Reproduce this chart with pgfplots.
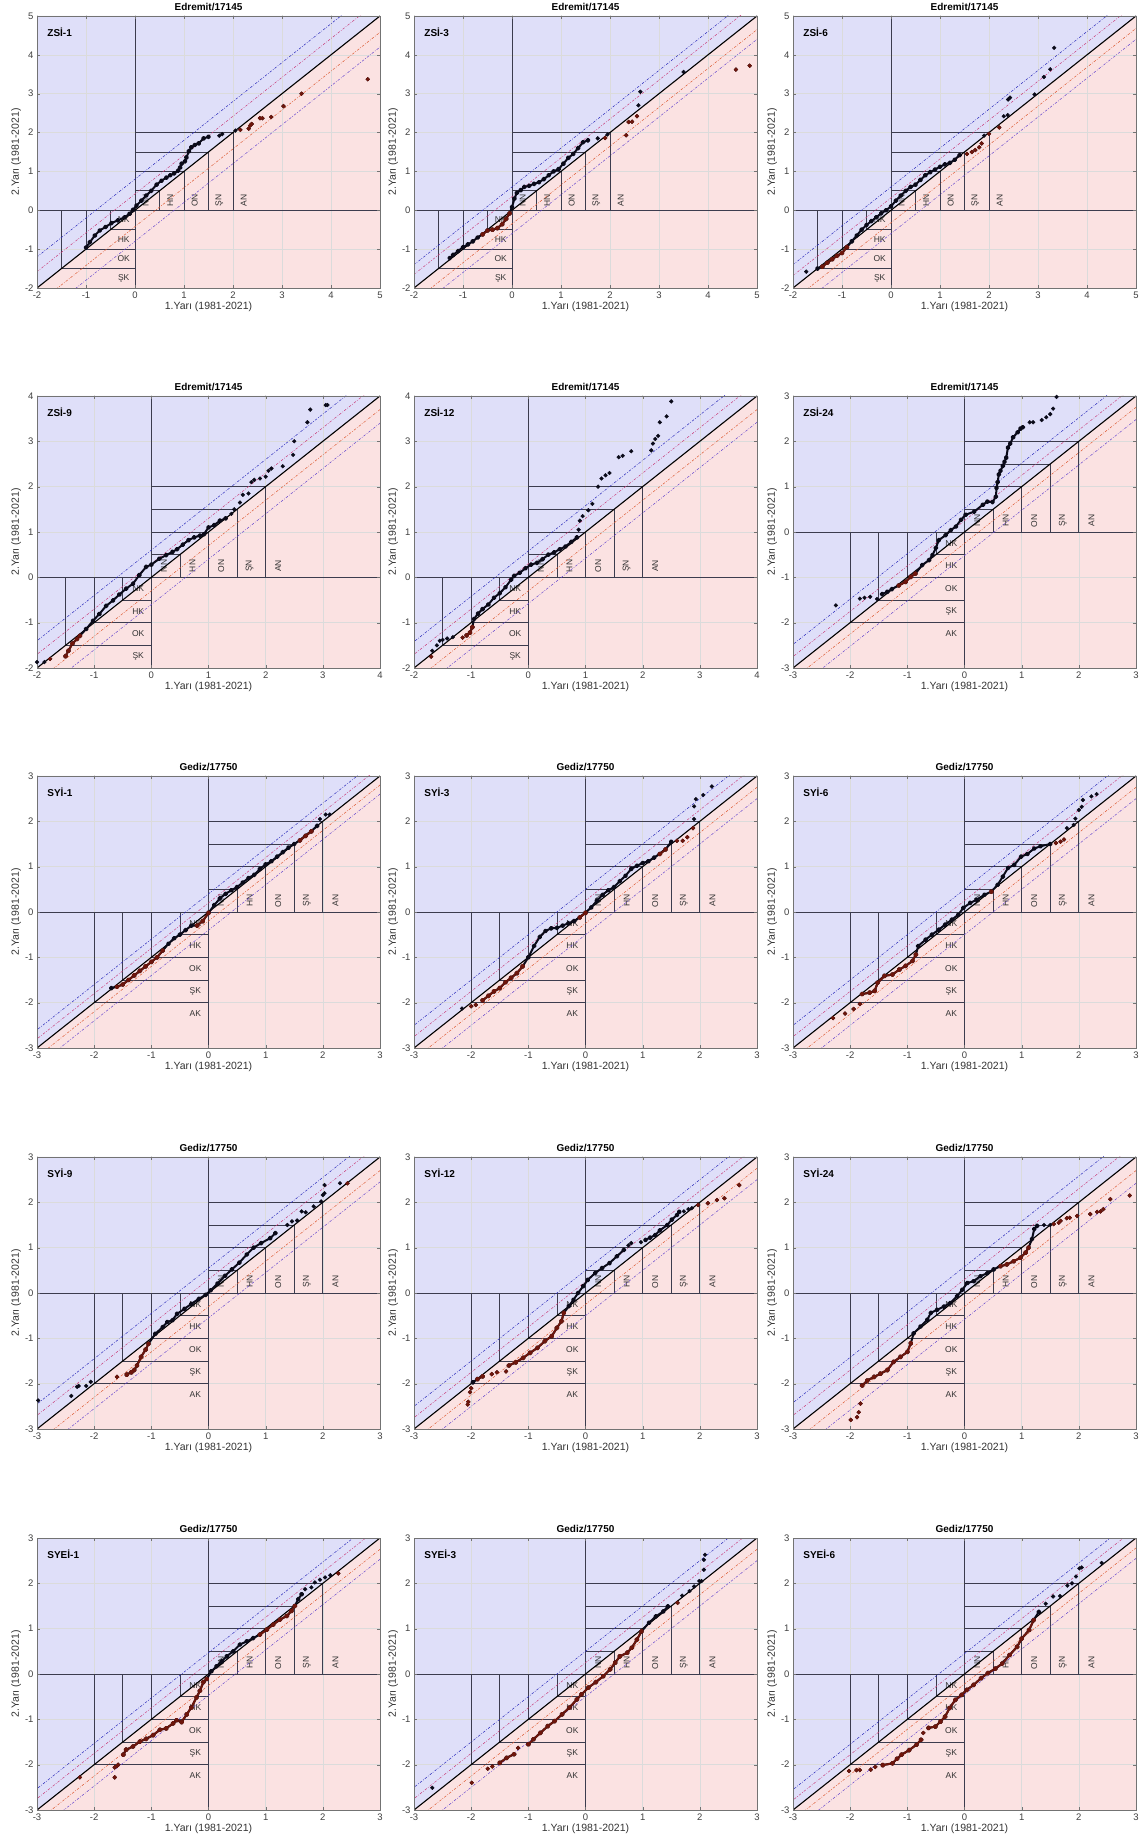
\documentclass[border=0pt]{standalone}
\usepackage{fontspec}
\setmainfont{Liberation Sans}
\usepackage{pgfplots}
\pgfplotsset{compat=1.18}
\definecolor{bgblue}{RGB}{223,223,249}
\definecolor{bgpink}{RGB}{251,226,226}
\definecolor{boxgray}{RGB}{60,60,78}
\definecolor{lnblue}{RGB}{40,40,185}
\definecolor{lnmag}{RGB}{200,60,120}
\definecolor{lnorange}{RGB}{220,90,50}
\definecolor{lnpurple}{RGB}{100,70,205}
\definecolor{ptred}{RGB}{110,22,12}
\definecolor{ptblack}{RGB}{10,10,25}
\newcommand{\lblfont}{\fontsize{8.5}{9}\selectfont}
\pgfplotsset{
 itabase/.style={
  width=343pt, height=272pt, scale only axis, anchor=south west,
  xtick distance=1, ytick distance=1,
  axis line style={draw=black!55, line width=0.5pt},
  tick style={draw=black!55},
  tick align=inside, major tick length=3pt,
  axis on top,
  /pgf/number format/assume math mode=true,
  tick label style={font=\fontsize{9.5}{10}\selectfont, text=black!75},
  xlabel={1.Yarı (1981-2021)}, ylabel={2.Yarı (1981-2021)},
  label style={font=\fontsize{10.5}{11}\selectfont, text=black!80},
  xlabel style={yshift=3pt}, ylabel style={yshift=-3pt},
  title style={font=\bfseries\fontsize{10}{11}\selectfont, yshift=-4pt},
  unbounded coords=jump,
 },
 ita/.style n args={5}{itabase, at={(#1pt,#2pt)}, xmin=#3, xmax=#4, ymin=#3, ymax=#4, title={#5}},
 dense/.style={line width=2pt, line join=round, mark=*, mark size=1.5pt, mark options={solid}},
 sparse/.style={only marks, mark=*, mark size=1.9pt},
 lowerpts/.style={filter point/.code={%
   \pgfmathfloatlessthan{\pgfkeysvalueof{/data point/y}}{\pgfkeysvalueof{/data point/x}}%
   \ifpgfmathfloatcomparison\else\pgfkeyssetvalue{/data point/y}{nan}\fi}},
}
\newcommand{\pts}[2]{%
 \addplot[#1, ptblack] coordinates {#2};
 \addplot[#1, ptred, lowerpts] coordinates {#2};
}
\newcommand{\itabg}[5]{%
 \fill[bgblue] (axis cs:#1,#1) -- (axis cs:#1,#2) -- (axis cs:#2,#2) -- cycle;
 \fill[bgpink] (axis cs:#1,#1) -- (axis cs:#2,#1) -- (axis cs:#2,#2) -- cycle;
 \pgfplotsinvokeforeach{-3,-2,-1,0,1,2,3,4,5}{%
  \draw[black!14, line width=0.5pt] (axis cs:##1,-10) -- (axis cs:##1,10);
  \draw[black!14, line width=0.5pt] (axis cs:-10,##1) -- (axis cs:10,##1);
 }
 \draw[boxgray, line width=0.75pt] (axis cs:#1,0) -- (axis cs:#2,0);
 \draw[boxgray, line width=0.75pt] (axis cs:0,#1) -- (axis cs:0,#2);
 \draw[boxgray, line width=0.75pt] (axis cs:0,0.5) -- (axis cs:0.5,0.5) -- (axis cs:0.5,0);
 \draw[boxgray, line width=0.75pt] (axis cs:0,1) -- (axis cs:1,1) -- (axis cs:1,0);
 \draw[boxgray, line width=0.75pt] (axis cs:0,1.5) -- (axis cs:1.5,1.5) -- (axis cs:1.5,0);
 \draw[boxgray, line width=0.75pt] (axis cs:0,2) -- (axis cs:2,2) -- (axis cs:2,0);
 \draw[boxgray, line width=0.75pt] (axis cs:0,-0.5) -- (axis cs:-0.5,-0.5) -- (axis cs:-0.5,0);
 \draw[boxgray, line width=0.75pt] (axis cs:0,-1) -- (axis cs:-1,-1) -- (axis cs:-1,0);
 \draw[boxgray, line width=0.75pt] (axis cs:0,-1.5) -- (axis cs:-1.5,-1.5) -- (axis cs:-1.5,0);
 \draw[boxgray, line width=0.75pt] (axis cs:0,-2) -- (axis cs:-2,-2) -- (axis cs:-2,0);
 \node[rotate=90, font=\lblfont, text=black!80] at (axis cs:0.22,0.25) {NN};
 \node[rotate=90, font=\lblfont, text=black!80] at (axis cs:0.72,0.25) {HN};
 \node[rotate=90, font=\lblfont, text=black!80] at (axis cs:1.22,0.25) {ON};
 \node[rotate=90, font=\lblfont, text=black!80] at (axis cs:1.72,0.25) {ŞN};
 \node[rotate=90, font=\lblfont, text=black!80] at (axis cs:2.22,0.25) {AN};
 \node[font=\lblfont, text=black!80] at (axis cs:-0.23,-0.25) {NK};
 \node[font=\lblfont, text=black!80] at (axis cs:-0.23,-0.75) {HK};
 \node[font=\lblfont, text=black!80] at (axis cs:-0.23,-1.25) {OK};
 \node[font=\lblfont, text=black!80] at (axis cs:-0.23,-1.75) {ŞK};
 \node[font=\lblfont, text=black!80] at (axis cs:-0.23,-2.25) {AK};
 \draw[lnblue, line width=0.5pt, dash pattern=on 2.5pt off 1.5pt on 0.7pt off 1.5pt] (axis cs:#1-1,#1-1+#4) -- (axis cs:#2+1,#2+1+#4);
 \draw[lnmag, line width=0.5pt, dash pattern=on 2.5pt off 1.5pt on 0.7pt off 1.5pt] (axis cs:#1-1,#1-1+#5) -- (axis cs:#2+1,#2+1+#5);
 \draw[lnorange, line width=0.5pt, dash pattern=on 2.5pt off 1.5pt on 0.7pt off 1.5pt] (axis cs:#1-1,#1-1-#5) -- (axis cs:#2+1,#2+1-#5);
 \draw[lnpurple, line width=0.5pt, dash pattern=on 2.5pt off 1.5pt on 0.7pt off 1.5pt] (axis cs:#1-1,#1-1-#4) -- (axis cs:#2+1,#2+1-#4);
 \draw[black, line width=1.1pt] (axis cs:#1,#1) -- (axis cs:#2,#2);
 \node[anchor=north west, font=\bfseries\fontsize{10}{11}\selectfont] at (rel axis cs:0.02,0.97) {#3};
}
\begin{document}
\begin{tikzpicture}
\path[use as bounding box] (0pt,0pt) rectangle (1147pt,1843pt);
%% Row 1
\begin{axis}[ita={37}{1555}{-2}{5}{Edremit/17145}]
\itabg{-2}{5}{ZSİ-1}{0.8}{0.42}
\pts{dense}{(-1.0,-0.96) (-0.92,-0.82) (-0.82,-0.65) (-0.72,-0.52) (-0.6,-0.43) (-0.48,-0.33) (-0.35,-0.26) (-0.21,-0.18) (-0.11,-0.09) (-0.04,0.01) (0.03,0.12) (0.13,0.25) (0.23,0.38) (0.33,0.5) (0.44,0.66) (0.54,0.76) (0.64,0.84) (0.72,0.9) (0.8,0.95) (0.88,1.02) (0.92,1.1) (0.95,1.2) (1.02,1.26) (1.05,1.36) (1.1,1.52) (1.15,1.62) (1.22,1.68) (1.3,1.72) (1.4,1.85) (1.5,1.89)}
\pts{sparse}{(1.72,1.92) (1.78,1.96) (2.05,2.05) (2.15,2.07) (2.32,2.1) (2.35,2.18) (2.38,2.22) (2.55,2.37) (2.6,2.37) (2.78,2.4) (3.03,2.68) (3.4,3.0) (4.75,3.37)}
\end{axis}
\begin{axis}[ita={414}{1555}{-2}{5}{Edremit/17145}]
\itabg{-2}{5}{ZSİ-3}{0.6}{0.35}
\pts{dense}{(-1.27,-1.23) (-1.2,-1.15) (-1.1,-1.05) (-1.0,-0.95) (-0.9,-0.88) (-0.8,-0.8) (-0.7,-0.7) (-0.6,-0.62) (-0.5,-0.52) (-0.4,-0.5) (-0.3,-0.46) (-0.2,-0.36) (-0.12,-0.22) (-0.05,-0.08) (0.0,0.08) (0.05,0.3) (0.1,0.45) (0.18,0.52) (0.25,0.6) (0.35,0.63) (0.45,0.68) (0.55,0.72) (0.65,0.8) (0.75,0.9) (0.85,1.0) (0.95,1.06) (1.05,1.2) (1.15,1.35) (1.25,1.45) (1.35,1.6) (1.45,1.75) (1.55,1.8)}
\pts{sparse}{(1.75,1.85) (1.9,1.86) (1.95,1.95) (2.33,1.93) (2.38,2.27) (2.45,2.28) (2.55,2.42) (2.58,2.7) (2.62,3.05) (3.5,3.56) (4.57,3.62) (4.85,3.72)}
\end{axis}
\begin{axis}[ita={793}{1555}{-2}{5}{Edremit/17145}]
\itabg{-2}{5}{ZSİ-6}{0.6}{0.32}
\pts{dense}{(-1.5,-1.5) (-1.4,-1.45) (-1.3,-1.35) (-1.2,-1.26) (-1.1,-1.17) (-1.0,-1.1) (-0.9,-0.95) (-0.8,-0.8) (-0.7,-0.65) (-0.6,-0.5) (-0.5,-0.38) (-0.4,-0.28) (-0.3,-0.18) (-0.2,-0.08) (-0.1,0.0) (0.0,0.1) (0.1,0.25) (0.2,0.38) (0.3,0.5) (0.4,0.6) (0.5,0.66) (0.6,0.78) (0.7,0.9) (0.8,0.98) (0.9,1.05) (1.0,1.12) (1.1,1.18) (1.2,1.22) (1.3,1.3) (1.4,1.42)}
\pts{sparse}{(-1.73,-1.58) (1.55,1.45) (1.65,1.5) (1.72,1.55) (1.8,1.62) (1.85,1.72) (1.9,1.92) (2.0,1.97) (2.21,2.13) (2.3,2.42) (2.38,2.45) (2.39,2.85) (2.43,2.9) (2.93,2.98) (3.12,3.43) (3.25,3.63) (3.33,4.18)}
\end{axis}
%% Row 2
\begin{axis}[ita={37}{1175}{-2}{4}{Edremit/17145}]
\itabg{-2}{4}{ZSİ-9}{0.6}{0.3}
\pts{dense}{(-1.5,-1.74) (-1.45,-1.62) (-1.38,-1.46) (-1.3,-1.36) (-1.25,-1.29) (-1.14,-1.14) (-1.02,-0.96) (-0.91,-0.81) (-0.79,-0.63) (-0.67,-0.51) (-0.56,-0.38) (-0.44,-0.25) (-0.32,-0.14) (-0.21,0.05) (-0.09,0.23) (0.0,0.28) (0.14,0.41) (0.26,0.49) (0.37,0.56) (0.45,0.62) (0.55,0.72) (0.65,0.82) (0.75,0.88) (0.85,0.92) (0.92,0.95) (1.0,1.1) (1.1,1.15) (1.2,1.25) (1.3,1.3)}
\pts{sparse}{(-2.0,-1.87) (-1.87,-1.87) (-1.77,-1.8) (1.4,1.4) (1.45,1.5) (1.55,1.65) (1.6,1.82) (1.7,1.85) (1.75,2.1) (1.8,2.15) (1.9,2.18) (2.0,2.22) (2.05,2.35) (2.1,2.4) (2.3,2.45) (2.48,2.7) (2.5,3.0) (2.73,3.42) (2.78,3.7) (3.05,3.8) (3.08,3.8)}
\end{axis}
\begin{axis}[ita={414}{1175}{-2}{4}{Edremit/17145}]
\itabg{-2}{4}{ZSİ-12}{0.58}{0.3}
\pts{dense}{(-1.08,-1.28) (-1.02,-1.22) (-0.98,-1.1) (-0.95,-0.92) (-0.88,-0.8) (-0.8,-0.7) (-0.7,-0.6) (-0.6,-0.45) (-0.5,-0.35) (-0.4,-0.22) (-0.3,-0.05) (-0.25,0.03) (-0.15,0.1) (-0.05,0.2) (0.05,0.28) (0.15,0.32) (0.25,0.4) (0.35,0.5) (0.45,0.55) (0.55,0.62) (0.65,0.68) (0.75,0.78) (0.85,0.88)}
\pts{sparse}{(-1.7,-1.75) (-1.68,-1.62) (-1.6,-1.5) (-1.55,-1.4) (-1.5,-1.38) (-1.42,-1.35) (-1.32,-1.32) (-1.15,-1.33) (0.88,1.05) (0.9,1.25) (0.95,1.35) (1.05,1.48) (1.12,1.62) (1.22,2.0) (1.28,2.18) (1.35,2.25) (1.42,2.3) (1.58,2.65) (1.65,2.68) (1.8,2.78) (2.15,2.8) (2.18,2.95) (2.22,3.05) (2.27,3.12) (2.3,3.42) (2.42,3.55) (2.5,3.88)}
\end{axis}
\begin{axis}[ita={793}{1175}{-3}{3}{Edremit/17145}]
\itabg{-3}{3}{ZSİ-24}{0.52}{0.25}
\pts{dense}{(-1.44,-1.37) (-1.35,-1.32) (-1.27,-1.26) (-1.15,-1.18) (-1.03,-1.1) (-0.94,-0.99) (-0.86,-0.92) (-0.74,-0.73) (-0.62,-0.62) (-0.56,-0.51) (-0.5,-0.35) (-0.45,-0.18) (-0.33,-0.07) (-0.24,0.04) (-0.15,0.12) (-0.06,0.27) (0.02,0.38) (0.17,0.45) (0.32,0.6) (0.4,0.67) (0.49,0.66) (0.55,0.78) (0.56,0.97) (0.58,1.1) (0.6,1.27) (0.63,1.35) (0.67,1.46) (0.7,1.55) (0.73,1.64) (0.76,1.86) (0.8,1.95) (0.85,2.09) (0.93,2.2) (0.98,2.28) (1.02,2.31)}
\pts{sparse}{(-2.25,-1.62) (-1.83,-1.47) (-1.75,-1.45) (-1.65,-1.43) (-1.53,-1.48) (1.14,2.42) (1.2,2.42) (1.35,2.47) (1.43,2.53) (1.5,2.6) (1.55,2.72) (1.61,2.98)}
\end{axis}
%% Row 3
\begin{axis}[ita={37}{795}{-3}{3}{Gediz/17750}]
\itabg{-3}{3}{SYİ-1}{0.4}{0.2}
\pts{dense}{(-1.7,-1.68) (-1.6,-1.65) (-1.5,-1.6) (-1.4,-1.5) (-1.3,-1.4) (-1.2,-1.3) (-1.1,-1.2) (-1.0,-1.1) (-0.9,-1.0) (-0.8,-0.85) (-0.7,-0.7) (-0.6,-0.58) (-0.5,-0.5) (-0.4,-0.4) (-0.3,-0.3) (-0.2,-0.3) (-0.1,-0.2) (0,-0.02) (0.1,0.15) (0.2,0.3) (0.3,0.4) (0.4,0.48) (0.5,0.55) (0.6,0.65) (0.7,0.75) (0.8,0.82) (0.9,0.95) (1.0,1.05) (1.1,1.12) (1.2,1.22) (1.3,1.32) (1.4,1.42) (1.5,1.5) (1.6,1.58) (1.7,1.68) (1.8,1.78) (1.9,1.9)}
\pts{sparse}{(1.95,2.05) (2.05,2.15) (2.12,2.15)}
\end{axis}
\begin{axis}[ita={414}{795}{-3}{3}{Gediz/17750}]
\itabg{-3}{3}{SYİ-3}{0.5}{0.25}
\pts{dense}{(-1.8,-1.95) (-1.7,-1.85) (-1.6,-1.75) (-1.5,-1.68) (-1.4,-1.55) (-1.3,-1.45) (-1.2,-1.35) (-1.1,-1.2) (-1.0,-1.0) (-0.9,-0.75) (-0.8,-0.55) (-0.7,-0.42) (-0.6,-0.36) (-0.5,-0.35) (-0.4,-0.3) (-0.3,-0.25) (-0.2,-0.2) (-0.1,-0.12) (0,-0.02) (0.1,0.1) (0.2,0.25) (0.3,0.38) (0.4,0.48) (0.5,0.55) (0.6,0.68) (0.7,0.8) (0.8,0.95) (0.9,1.02) (1.0,1.08) (1.1,1.12) (1.2,1.2) (1.3,1.28) (1.4,1.38) (1.5,1.55)}
\pts{sparse}{(-2.16,-2.13) (-2.0,-2.08) (-1.92,-2.05) (1.6,1.57) (1.7,1.57) (1.78,1.65) (1.88,1.85) (1.9,2.05) (1.9,2.33) (1.93,2.49) (2.06,2.58) (2.21,2.77)}
\end{axis}
\begin{axis}[ita={793}{795}{-3}{3}{Gediz/17750}]
\itabg{-3}{3}{SYİ-6}{0.5}{0.25}
\pts{dense}{(-1.79,-1.81) (-1.66,-1.78) (-1.57,-1.74) (-1.52,-1.56) (-1.4,-1.41) (-1.26,-1.38) (-1.14,-1.27) (-1.03,-1.19) (-0.91,-1.08) (-0.85,-0.94) (-0.81,-0.75) (-0.68,-0.61) (-0.57,-0.5) (-0.45,-0.39) (-0.34,-0.28) (-0.22,-0.17) (-0.11,-0.06) (-0.02,0.09) (0.1,0.2) (0.21,0.27) (0.35,0.38) (0.47,0.45) (0.58,0.6) (0.67,0.78) (0.76,0.97) (0.87,1.04) (0.99,1.22) (1.1,1.28) (1.22,1.4) (1.33,1.45) (1.5,1.5)}
\pts{sparse}{(-2.3,-2.34) (-2.09,-2.24) (-1.94,-2.14) (-1.83,-2.03) (1.6,1.52) (1.68,1.55) (1.74,1.6) (1.79,1.85) (1.91,1.92) (1.94,2.06) (2.0,2.25) (2.05,2.32) (2.07,2.47) (2.22,2.55) (2.31,2.6)}
\end{axis}
%% Row 4
\begin{axis}[ita={37}{414}{-3}{3}{Gediz/17750}]
\itabg{-3}{3}{SYİ-9}{0.55}{0.3}
\pts{dense}{(-1.43,-1.8) (-1.35,-1.75) (-1.3,-1.7) (-1.25,-1.6) (-1.18,-1.41) (-1.1,-1.25) (-1.05,-1.12) (-0.93,-0.9) (-0.8,-0.75) (-0.72,-0.64) (-0.63,-0.6) (-0.55,-0.46) (-0.42,-0.35) (-0.3,-0.24) (-0.17,-0.13) (-0.05,-0.04) (0.04,0.06) (0.16,0.21) (0.29,0.38) (0.41,0.52) (0.54,0.67) (0.67,0.85) (0.79,1.0) (0.92,1.1) (1.08,1.21) (1.17,1.32)}
\pts{sparse}{(-2.98,-2.37) (-2.4,-2.27) (-2.3,-2.07) (-2.27,-2.05) (-2.14,-2.05) (-2.06,-1.96) (-1.6,-1.85) (1.38,1.5) (1.46,1.58) (1.55,1.6) (1.63,1.8) (1.7,1.78) (1.84,1.91) (1.97,2.02) (2.0,2.16) (2.03,2.2) (2.03,2.38) (2.3,2.42) (2.43,2.42)}
\end{axis}
\begin{axis}[ita={414}{414}{-3}{3}{Gediz/17750}]
\itabg{-3}{3}{SYİ-12}{0.5}{0.25}
\pts{dense}{(-1.97,-1.97) (-1.89,-1.9) (-1.8,-1.84)}
\pts{dense}{(-1.34,-1.6) (-1.22,-1.53) (-1.09,-1.43) (-0.97,-1.32) (-0.84,-1.21) (-0.71,-1.06) (-0.59,-0.95) (-0.5,-0.77) (-0.42,-0.62) (-0.38,-0.44) (-0.29,-0.29) (-0.21,-0.15) (-0.13,0.0) (-0.04,0.15) (0.04,0.29) (0.17,0.44) (0.29,0.55) (0.42,0.66) (0.55,0.81) (0.67,0.95)}
\pts{dense}{(1.05,1.17) (1.13,1.22) (1.22,1.28) (1.3,1.38) (1.43,1.5) (1.51,1.62) (1.6,1.72) (1.64,1.79)}
\pts{sparse}{(-2.06,-2.46) (-2.05,-2.4) (-2.02,-2.19) (-2.0,-2.1) (-1.64,-1.79) (-1.55,-1.75) (-1.39,-1.73) (0.75,1.05) (0.8,1.1) (0.97,1.12) (1.72,1.8) (1.8,1.85) (1.86,1.87) (1.97,1.94) (2.14,1.98) (2.3,2.05) (2.43,2.09) (2.69,2.38)}
\end{axis}
\begin{axis}[ita={793}{414}{-3}{3}{Gediz/17750}]
\itabg{-3}{3}{SYİ-24}{0.58}{0.3}
\pts{dense}{(-1.79,-2.04) (-1.7,-1.93) (-1.58,-1.85) (-1.47,-1.78) (-1.35,-1.7) (-1.24,-1.52) (-1.12,-1.41) (-1.0,-1.3) (-0.94,-1.11) (-0.89,-0.89) (-0.77,-0.74) (-0.65,-0.59) (-0.59,-0.44) (-0.48,-0.37) (-0.36,-0.3) (-0.25,-0.22) (-0.13,-0.07) (-0.04,0.07) (0.05,0.22) (0.16,0.26) (0.28,0.37) (0.4,0.44) (0.51,0.52) (0.63,0.59) (0.74,0.63) (0.86,0.7) (0.98,0.78) (1.07,0.89) (1.12,1.0) (1.18,1.19) (1.22,1.41) (1.27,1.48)}
\pts{sparse}{(-1.99,-2.8) (-1.88,-2.74) (-1.85,-2.63) (-1.82,-2.44) (1.39,1.5) (1.5,1.5) (1.56,1.52) (1.65,1.55) (1.68,1.59) (1.79,1.65) (1.84,1.66) (1.97,1.7) (2.2,1.74) (2.32,1.79) (2.38,1.8) (2.43,1.85) (2.55,2.07) (2.89,2.15)}
\end{axis}
%% Row 5
\begin{axis}[ita={37}{33}{-3}{3}{Gediz/17750}]
\itabg{-3}{3}{SYEİ-1}{0.47}{0.25}
\pts{dense}{(-1.49,-1.78) (-1.44,-1.67) (-1.32,-1.6) (-1.2,-1.49) (-1.09,-1.43) (-0.97,-1.35) (-0.85,-1.23) (-0.74,-1.2) (-0.62,-1.09) (-0.56,-1.02) (-0.47,-1.06) (-0.38,-0.89) (-0.3,-0.74) (-0.21,-0.52) (-0.15,-0.37) (-0.09,-0.18) (-0.03,-0.11) (0.05,0.06) (0.14,0.17) (0.23,0.28) (0.32,0.39) (0.43,0.5) (0.55,0.65) (0.67,0.72) (0.78,0.79) (0.9,0.87) (1.02,0.98) (1.13,1.09) (1.25,1.2) (1.37,1.28) (1.45,1.39) (1.51,1.5) (1.57,1.65) (1.63,1.76)}
\pts{sparse}{(-2.25,-2.28) (-1.64,-2.28) (-1.64,-2.06) (-1.6,-2.03) (-1.58,-2.0) (1.69,1.87) (1.8,1.91) (1.86,2.02) (1.95,2.08) (2.04,2.13) (2.13,2.18) (2.27,2.22)}
\end{axis}
\begin{axis}[ita={414}{33}{-3}{3}{Gediz/17750}]
\itabg{-3}{3}{SYEİ-3}{0.5}{0.25}
\pts{dense}{(-1.5,-1.96) (-1.38,-1.85) (-1.25,-1.77)}
\pts{dense}{(-1.0,-1.55) (-0.91,-1.44) (-0.79,-1.3) (-0.66,-1.15) (-0.54,-1.04) (-0.41,-0.89) (-0.28,-0.74) (-0.15,-0.56) (-0.07,-0.45) (0.05,-0.3) (0.18,-0.18) (0.31,-0.05) (0.43,0.1) (0.52,0.25) (0.6,0.39) (0.73,0.47) (0.81,0.58) (0.9,0.76) (0.98,0.94) (1.11,1.13) (1.23,1.27) (1.36,1.38) (1.44,1.49)}
\pts{sparse}{(-2.68,-2.51) (-1.99,-2.4) (-1.71,-2.09) (-1.63,-2.04) (-1.18,-1.63) (1.61,1.57) (1.69,1.73) (1.82,1.83) (1.9,1.93) (1.99,2.05) (2.03,2.05) (2.07,2.3) (2.07,2.52) (2.09,2.63)}
\end{axis}
\begin{axis}[ita={793}{33}{-3}{3}{Gediz/17750}]
\itabg{-3}{3}{SYEİ-6}{0.45}{0.22}
\pts{dense}{(-1.43,-2.01) (-1.26,-1.97) (-1.18,-1.87) (-1.1,-1.78) (-0.97,-1.68) (-0.84,-1.56) (-0.76,-1.45)}
\pts{dense}{(-0.63,-1.19) (-0.51,-1.16) (-0.42,-1.05) (-0.34,-0.94) (-0.26,-0.75) (-0.16,-0.57) (-0.05,-0.46) (0.04,-0.35) (0.16,-0.24) (0.29,-0.09) (0.41,0.02) (0.54,0.12) (0.66,0.23) (0.79,0.42) (0.92,0.6) (1.0,0.78) (1.13,0.97) (1.21,1.19) (1.3,1.37)}
\pts{sparse}{(-2.02,-2.14) (-1.89,-2.12) (-1.83,-2.12) (-1.64,-2.11) (-1.56,-2.05) (-0.72,-1.3) (1.42,1.55) (1.55,1.71) (1.67,1.72) (1.8,1.95) (1.88,2.0) (1.95,2.15) (2.01,2.33) (2.05,2.35) (2.4,2.45)}
\end{axis}
\end{tikzpicture}
\end{document}
